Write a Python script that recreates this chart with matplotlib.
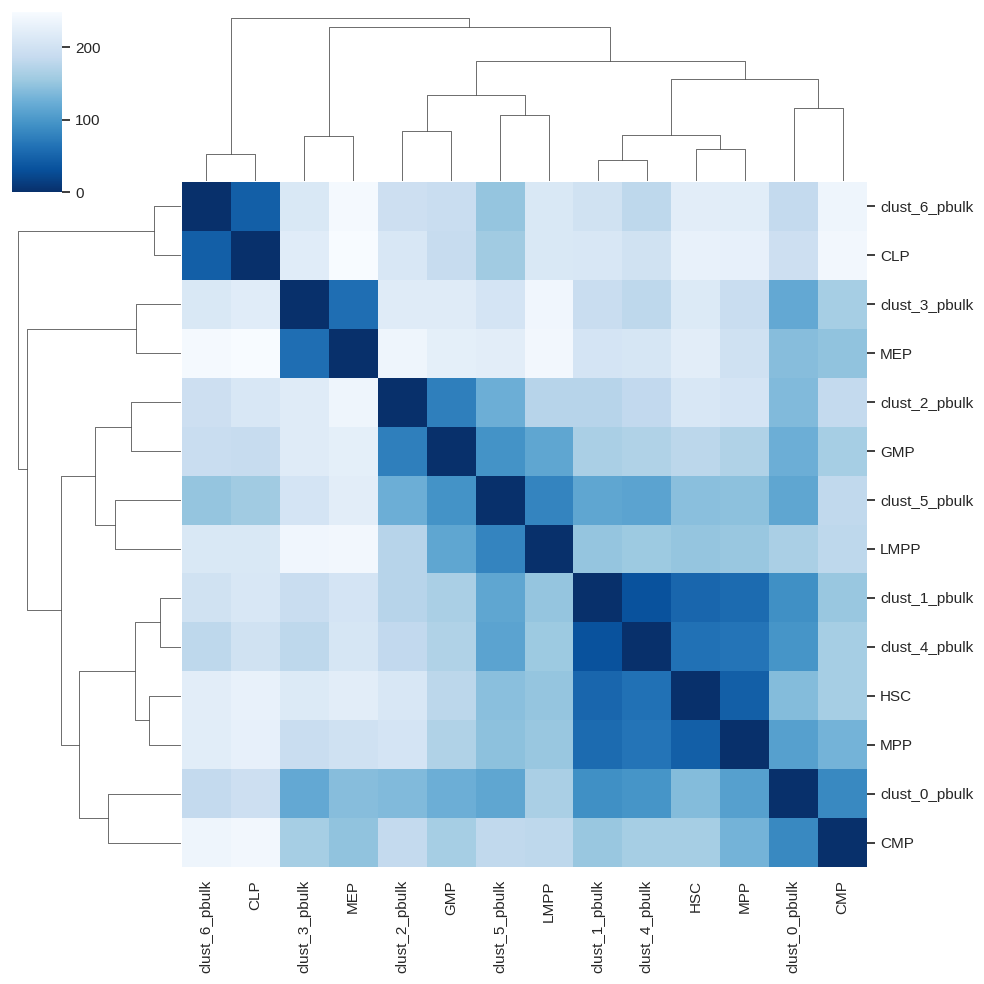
import matplotlib
matplotlib.use("Agg")
import matplotlib.pyplot as plt
from matplotlib.collections import LineCollection
import numpy as np
import pandas as pd
import seaborn as sns

# leaf order as displayed (rows == columns)
labels = ["clust_6_pbulk", "CLP", "clust_3_pbulk", "MEP", "clust_2_pbulk", "GMP",
          "clust_5_pbulk", "LMPP", "clust_1_pbulk", "clust_4_pbulk", "HSC", "MPP",
          "clust_0_pbulk", "CMP"]

dist = [
    [0, 45, 212, 245, 195, 190, 150, 212, 200, 180, 222, 221, 185, 238],
    [45, 0, 220, 249, 210, 188, 158, 212, 210, 200, 230, 228, 195, 242],
    [212, 220, 0, 60, 218, 218, 205, 240, 190, 180, 215, 190, 118, 162],
    [245, 249, 60, 0, 238, 225, 222, 242, 205, 208, 222, 198, 142, 147],
    [195, 210, 218, 238, 0, 75, 125, 175, 175, 183, 210, 205, 138, 185],
    [190, 188, 218, 225, 75, 0, 95, 115, 165, 170, 178, 170, 125, 162],
    [150, 158, 205, 222, 125, 95, 0, 80, 115, 112, 143, 145, 115, 182],
    [212, 212, 240, 242, 175, 115, 80, 0, 150, 155, 150, 152, 165, 180],
    [200, 210, 190, 205, 175, 165, 115, 150, 0, 33, 52, 57, 92, 152],
    [180, 200, 180, 208, 183, 170, 112, 155, 33, 0, 63, 66, 97, 162],
    [222, 230, 215, 222, 210, 178, 143, 150, 52, 63, 0, 45, 140, 162],
    [221, 228, 190, 198, 205, 170, 145, 152, 57, 66, 45, 0, 108, 130],
    [185, 195, 118, 142, 138, 125, 115, 165, 92, 97, 140, 108, 0, 85],
    [238, 242, 162, 147, 185, 162, 182, 180, 152, 162, 162, 130, 85, 0],
]

# linkage (scipy-style ids: leaves 0..13, merged clusters 14..)
link_left = [0, 8, 2, 10, 15, 4, 6, 12, 19, 18, 22, 16, 14]
link_right = [1, 9, 3, 11, 17, 5, 7, 13, 20, 21, 23, 24, 25]
link_height = [27.2, 21.2, 45.2, 32.2, 46.2, 50.2, 66.2, 73.2, 86.2, 102.2, 120.2, 154.2, 163.2]


def dendro_segments(n):
    pos = {i: 10.0 * i + 5.0 for i in range(n)}
    hgt = {i: 0.0 for i in range(n)}
    segs = []
    for k, (a, b, h) in enumerate(zip(link_left, link_right, link_height)):
        xa, xb = pos[a], pos[b]
        segs.append([(xa, hgt[a]), (xa, h), (xb, h), (xb, hgt[b])])
        pos[n + k] = (xa + xb) / 2.0
        hgt[n + k] = h
    return segs


sns.set_theme(style="white")
plt.rcParams["font.family"] = ["Liberation Sans", "DejaVu Sans"]

W = 984.0
fig = plt.figure(figsize=(W / 100, W / 100), dpi=100)


def box(left, top, right, bottom):
    return [left / W, (W - bottom) / W, (right - left) / W, (bottom - top) / W]


hm_l, hm_t, hm_r, hm_b = 182, 182, 867, 867
dmax = max(link_height) * 1.05
ax_hm = fig.add_axes(box(hm_l, hm_t, hm_r, hm_b))
ax_col = fig.add_axes(box(hm_l, 181.3 - dmax, hm_r, 181.3))
ax_row = fig.add_axes(box(181.3 - dmax, hm_t, 181.3, hm_b))
ax_cb = fig.add_axes(box(12, 12, 62, 192))

df = pd.DataFrame(np.array(dist, dtype=float), index=labels, columns=labels)
sns.heatmap(df, ax=ax_hm, cmap="Blues_r", cbar_ax=ax_cb)

ax_hm.yaxis.set_ticks_position("right")
ax_hm.yaxis.set_label_position("right")
ax_hm.set_yticklabels(labels, rotation=0)
ax_hm.set_xticklabels(labels, rotation=90)
ax_hm.tick_params(axis="y", right=True, left=False, length=6, width=1.25, color=".15", labelsize=11)
ax_hm.tick_params(axis="x", bottom=False, length=6, labelsize=11)
ax_hm.set_xlabel("")
ax_hm.set_ylabel("")

ax_cb.tick_params(right=True, length=6, width=1.25, color=".15", labelsize=11)
ax_cb.set_yticks([0, 100, 200])

segs = dendro_segments(len(labels))
n = len(labels)
ax_col.add_collection(LineCollection(segs, linewidths=0.5, colors=".2"))
ax_col.set_xlim(0, 10 * n)
ax_col.set_ylim(0, dmax)
ax_col.set_axis_off()

row_segs = [[(y, x) for x, y in s] for s in segs]
ax_row.add_collection(LineCollection(row_segs, linewidths=0.5, colors=".2"))
ax_row.set_ylim(10 * n, 0)
ax_row.set_xlim(dmax, 0)
ax_row.set_axis_off()

fig.savefig("out.png", dpi=100)
